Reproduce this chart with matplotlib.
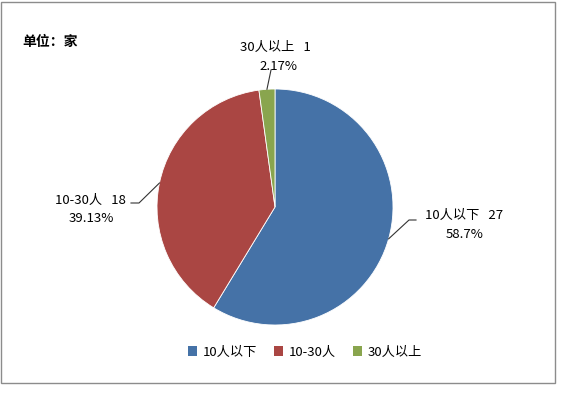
import numpy as np
import matplotlib
matplotlib.use("Agg")
from matplotlib import pyplot as plt
from matplotlib.patches import Rectangle

plt.rcParams['font.family'] = ['Noto Sans CJK SC', 'DejaVu Sans']

categories = ['10人以下', '10-30人', '30人以上']
counts = [27, 18, 1]
percents = ['58.7%', '39.13%', '2.17%']
colors = ['#4572A7', '#AA4643', '#89A54E']

W, H = 569, 396
fig = plt.figure(figsize=(W / 100, H / 100), dpi=100)
ax = fig.add_axes([0, 0, 1, 1])

cx, cy, r = 275, H - 207, 118
wedges, _ = ax.pie(counts, colors=colors, startangle=90, counterclock=False,
                   center=(cx, cy), radius=r, frame=True,
                   wedgeprops=dict(edgecolor='white', linewidth=0.6))
ax.set_xlim(0, W)
ax.set_ylim(0, H)
ax.set_aspect('equal')
ax.axis('off')

# outer frame
ax.add_patch(Rectangle((1, H - 383), 554, 381, fill=False, ec='#8c8c8c', lw=1))

# label positions (pixel coords) and leader points
label_pos = [(464, 215), (90, 200), (275, 47)]
leaders = [[(409, 220), (416, 220)], [(139, 203), (131, 203)], [(271, 70)]]
for i, w in enumerate(wedges):
    mid = np.deg2rad((w.theta1 + w.theta2) / 2)
    ex, ey = cx + r * np.cos(mid), cy + r * np.sin(mid)
    pts = [(ex, ey)] + [(x, H - y) for x, y in leaders[i]]
    ax.plot([p[0] for p in pts], [p[1] for p in pts], color='#333333', lw=0.8)
    lx, ly = label_pos[i]
    ax.text(lx, H - ly, '%s   %d' % (categories[i], counts[i]), ha='center', va='center', fontsize=9.5)
    ax.text(lx + (1 if i != 2 else 3), H - ly - 19, percents[i], ha='center', va='center', fontsize=9.5)

ax.text(22, H - 42, '单位：家', ha='left', va='center', fontsize=10, fontweight='bold')

handles = [Rectangle((0, 0), 1, 1, fc=c) for c in colors]
fig.legend(handles, categories, loc='center', bbox_to_anchor=(305 / W, 1 - 352 / H),
           ncol=3, frameon=False, fontsize=9.5, handlelength=0.7, handleheight=0.7,
           handletextpad=0.4, columnspacing=1.3)

fig.savefig('out.png', dpi=100)
